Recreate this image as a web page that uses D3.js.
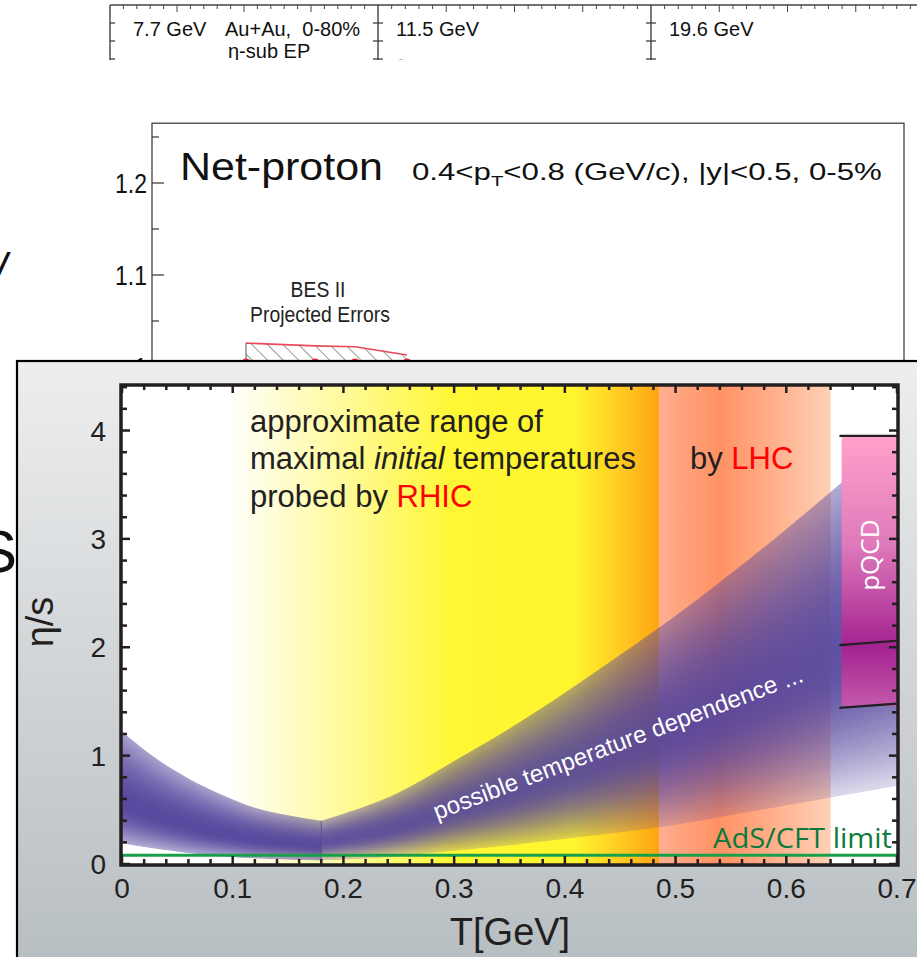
<!DOCTYPE html>
<html>
<head>
<meta charset="utf-8">
<script src="https://cdn.jsdelivr.net/npm/d3@7"></script>
<style>
  body { margin: 0; background: #fff; }
  svg { display: block; }
</style>
</head>
<body>
<div id="chart"></div>
<script>
// ---- data ----
// eta/s band, left part (hadron gas side), T in GeV
const tLeft = [0, 0.03, 0.06, 0.09, 0.12, 0.15, 0.18];
const upperLeft = [1.22, 0.98, 0.79, 0.64, 0.52, 0.45, 0.40];
const lowerLeft = [0.19, 0.14, 0.10, 0.07, 0.05, 0.04, 0.03];
// right part (QGP side)
const tRight = [0.18, 0.25, 0.30, 0.35, 0.40, 0.45, 0.50, 0.55, 0.60, 0.65, 0.70];
const upperRight = [0.40, 0.66, 0.95, 1.25, 1.58, 1.93, 2.29, 2.68, 3.09, 3.52, 3.97];
const lowerRight = [0.03, 0.07, 0.12, 0.17, 0.23, 0.29, 0.36, 0.45, 0.54, 0.63, 0.72];

const adsLimit = 0.08;              // 1/4pi
const rhicRange = [0.095, 0.485];
const lhcRange = [0.485, 0.64];
const pqcdRange = [0.65, 0.70];
const pqcdBox = [1.46, 3.95];
const pqcdLines = [[3.95, 3.95], [2.02, 2.06], [1.44, 1.48]];

const xTicks = [0, 0.1, 0.2, 0.3, 0.4, 0.5, 0.6, 0.7];
const xTickLabels = ["0", "0.1", "0.2", "0.3", "0.4", "0.5", "0.6", "0.7"];
const yTicks = [0, 1, 2, 3, 4];
const yTickLabels = ["0", "1", "2", "3", "4"];

// net-proton panel (background)
const npEnergies = [7.7, 11.5, 14.5, 19.6];
const npUpper = [1.026, 1.023, 1.022, 1.013];
const npLower = [0.99, 0.99, 0.99, 0.99];
const npCentral = [1.005, 1.005, 1.005, 1.005];
const npTicks = [1.0, 1.05, 1.1, 1.15, 1.2, 1.25];
const npTickLabels = { 1.0: "1", 1.1: "1.1", 1.2: "1.2" };

// v1 strip at the very top
const stripLabels = ["7.7 GeV", "11.5 GeV", "19.6 GeV"];

const W = 917, H = 957;
const FONT = "'Liberation Sans', Arial, Helvetica, sans-serif";
const INK = "#231f20";

const svg = d3.select("#chart").append("svg")
    .attr("width", W)
    .attr("height", H)
    .style("font-family", FONT);
const defs = svg.append("defs");

// squeeze a text element horizontally to a given width
function fitWidth(sel, x, y, width) {
    const w = sel.node().getBBox().width;
    sel.attr("transform", `translate(${x},${y}) scale(${width / w},1)`);
}

// ---- top strip ----
defs.append("clipPath").attr("id", "strip-clip")
    .append("rect").attr("x", 0).attr("y", 0).attr("width", W).attr("height", 60);
const strip = svg.append("g").attr("clip-path", "url(#strip-clip)");
const stripX = d3.scaleLinear().domain([1, 2]).range([378, 651]);
const stripY = d3.scaleLinear().domain([1, 0]).range([23, 41]);
const stripLeft = 110;

strip.append("line")
    .attr("x1", stripLeft).attr("x2", W)
    .attr("y1", 5).attr("y2", 5)
    .attr("stroke", "#444").attr("stroke-width", 1.3);

stripLabels.forEach((lab, i) => {
    const x0 = i === 0 ? stripLeft : stripX(i), x1 = stripX(i + 1);
    strip.append("line")
        .attr("x1", x0).attr("x2", x0).attr("y1", 5).attr("y2", 70)
        .attr("stroke", "#333").attr("stroke-width", 1.3);
    const u = d3.scaleLinear().domain([0, 20]).range([x0, x1]);
    d3.range(1, 20).forEach(k => {
        strip.append("line")
            .attr("x1", u(k)).attr("x2", u(k))
            .attr("y1", 5).attr("y2", 5 + (k % 5 === 0 ? 7 : 4))
            .attr("stroke", "#444").attr("stroke-width", 1);
    });
    [1, 0, -1].forEach(v => {
        strip.append("line")
            .attr("x1", x0 - (i === 0 ? 0 : 5)).attr("x2", x0 + 5)
            .attr("y1", stripY(v)).attr("y2", stripY(v))
            .attr("stroke", "#333").attr("stroke-width", 1.2);
    });
    strip.append("text")
        .attr("x", x0 + (i === 0 ? 23 : 18)).attr("y", 36)
        .attr("font-size", 20).attr("fill", "#111")
        .text(lab);
});
strip.append("text")
    .attr("x", 225).attr("y", 36)
    .attr("font-size", 20).attr("fill", "#111")
    .style("white-space", "pre")
    .text("Au+Au,  0-80%");
strip.append("text")
    .attr("x", 228).attr("y", 58)
    .attr("font-size", 20).attr("fill", "#111")
    .text("η-sub EP");
strip.append("circle")
    .attr("cx", stripX(1) + 23).attr("cy", 66).attr("r", 5.5)
    .attr("fill", "none").attr("stroke", "#2020c0").attr("stroke-width", 2);
strip.append("text")
    .attr("x", stripX(1) + 34).attr("y", 74)
    .attr("font-size", 20).attr("fill", "#111")
    .text("BES II");
strip.append("text")
    .attr("x", 136).attr("y", 74)
    .attr("font-size", 20).attr("fill", "#111")
    .text("C");

// ---- net-proton panel ----
const npY = d3.scaleLinear().domain([1.0, 1.2]).range([367, 183]);
const npX = d3.scaleLog().domain([7.7, 19.6]).range([246, 407]);
const np = svg.append("g");

np.append("rect")
    .attr("x", 152).attr("y", npY(1.265))
    .attr("width", 752).attr("height", 300)
    .attr("fill", "#fff").attr("stroke", "#333").attr("stroke-width", 1.2);

npTicks.forEach(v => {
    const major = Math.abs(v * 10 - Math.round(v * 10)) < 1e-6;
    np.append("line")
        .attr("x1", 152).attr("x2", 152 + (major ? 12 : 7))
        .attr("y1", npY(v)).attr("y2", npY(v))
        .attr("stroke", "#333").attr("stroke-width", 1.2);
    if (npTickLabels[v]) {
        const t = np.append("text")
            .attr("text-anchor", "end")
            .attr("font-size", 27).attr("fill", "#111")
            .text(npTickLabels[v]);
        t.attr("transform", `translate(147,${npY(v) + 10}) scale(0.85,1)`);
    }
});

const npTitle = np.append("text").attr("font-size", 39).attr("fill", "#111").text("Net-proton");
fitWidth(npTitle, 180, 180, 203);

const npSub = np.append("text").attr("font-size", 23).attr("fill", "#111");
npSub.append("tspan").text("0.4<p");
npSub.append("tspan").attr("font-size", 15).attr("dy", 6).text("T");
npSub.append("tspan").attr("dy", -6).text("<0.8 (GeV/c), |y|<0.5, 0-5%");
fitWidth(npSub, 412, 180, 470);

const bes1 = np.append("text").attr("font-size", 22).attr("fill", "#222").attr("text-anchor", "middle").text("BES II");
bes1.attr("transform", "translate(318,297) scale(0.88,1)");
const bes2 = np.append("text").attr("font-size", 22).attr("fill", "#222").attr("text-anchor", "middle").text("Projected Errors");
bes2.attr("transform", "translate(320,322) scale(0.88,1)");

const hatch = defs.append("pattern")
    .attr("id", "hatch")
    .attr("patternUnits", "userSpaceOnUse")
    .attr("width", 11).attr("height", 11)
    .attr("patternTransform", "rotate(-45)");
hatch.append("line")
    .attr("x1", 0).attr("x2", 0).attr("y1", 0).attr("y2", 11)
    .attr("stroke", "#555").attr("stroke-width", 1.2);

const npIdx = npEnergies.map((d, i) => i);
np.append("path")
    .datum(npIdx)
    .attr("fill", "url(#hatch)")
    .attr("d", d3.area()
        .x(i => npX(npEnergies[i]))
        .y0(i => npY(npLower[i]))
        .y1(i => npY(npUpper[i])));
np.append("path")
    .datum(npIdx)
    .attr("fill", "none").attr("stroke", "#e84a5a").attr("stroke-width", 1.6)
    .attr("d", d3.line()
        .x(i => npX(npEnergies[i]))
        .y(i => npY(npUpper[i])));
np.append("line")
    .attr("x1", npX(npEnergies[0])).attr("x2", npX(npEnergies[0]))
    .attr("y1", npY(npUpper[0])).attr("y2", npY(npLower[0]))
    .attr("stroke", "#555").attr("stroke-width", 1);
np.selectAll("circle.np")
    .data(npIdx)
    .join("circle")
    .attr("cx", i => npX(npEnergies[i]))
    .attr("cy", i => npY(npCentral[i]))
    .attr("r", 4).attr("fill", "#e83040");

// left fragments of a neighbouring figure
svg.append("text")
    .attr("x", -6).attr("y", 286)
    .attr("font-size", 46).attr("font-style", "italic").attr("fill", "#111")
    .text("/");
svg.append("text")
    .attr("x", 17).attr("y", 572).attr("text-anchor", "end")
    .attr("font-size", 60).attr("fill", "#111")
    .text("S");

// ---- main panel ----
const panelGrad = defs.append("linearGradient")
    .attr("id", "panel-grad")
    .attr("x1", 0).attr("y1", 0).attr("x2", 0).attr("y2", 1);
panelGrad.append("stop").attr("offset", "0%").attr("stop-color", "#edeeef");
panelGrad.append("stop").attr("offset", "40%").attr("stop-color", "#cbcfd2");
panelGrad.append("stop").attr("offset", "100%").attr("stop-color", "#97a3a8");

svg.append("rect")
    .attr("x", 17).attr("y", 361)
    .attr("width", W).attr("height", H)
    .attr("fill", "url(#panel-grad)")
    .attr("stroke", "#000").attr("stroke-width", 2.2);

const x = d3.scaleLinear().domain([0, 0.7]).range([122, 897]);
const y = d3.scaleLinear().domain([0, 4.42]).range([864, 385]);

const plot = svg.append("g");
plot.append("rect")
    .attr("x", x(0)).attr("y", y(4.42))
    .attr("width", x(0.7) - x(0)).attr("height", y(0) - y(4.42))
    .attr("fill", "#fff");

defs.append("clipPath").attr("id", "plot-clip")
    .append("rect")
    .attr("x", x(0)).attr("y", y(4.42))
    .attr("width", x(0.7) - x(0)).attr("height", y(0) - y(4.42));
const inner = plot.append("g").attr("clip-path", "url(#plot-clip)");

// RHIC range
const rhicGrad = defs.append("linearGradient")
    .attr("id", "rhic-grad")
    .attr("gradientUnits", "userSpaceOnUse")
    .attr("x1", x(rhicRange[0])).attr("x2", x(rhicRange[1]))
    .attr("y1", 0).attr("y2", 0);
[["0%", "#ffffff"], ["8%", "#fffde2"], ["28%", "#fffa96"], ["52%", "#fff735"],
 ["80%", "#fff52e"], ["90%", "#ffcf24"], ["100%", "#ffa312"]].forEach(([o, c]) =>
    rhicGrad.append("stop").attr("offset", o).attr("stop-color", c));
inner.append("rect")
    .attr("x", x(rhicRange[0])).attr("y", y(4.42))
    .attr("width", x(rhicRange[1]) - x(rhicRange[0])).attr("height", y(0) - y(4.42))
    .attr("fill", "url(#rhic-grad)");

// LHC range
const lhcGrad = defs.append("linearGradient")
    .attr("id", "lhc-grad")
    .attr("gradientUnits", "userSpaceOnUse")
    .attr("x1", x(lhcRange[0])).attr("x2", x(lhcRange[1]))
    .attr("y1", 0).attr("y2", 0);
[["0%", "#ffae90"], ["35%", "#ff9163"], ["100%", "#ffd0b6"]].forEach(([o, c]) =>
    lhcGrad.append("stop").attr("offset", o).attr("stop-color", c));
inner.append("rect")
    .attr("x", x(lhcRange[0])).attr("y", y(4.42))
    .attr("width", x(lhcRange[1]) - x(lhcRange[0])).attr("height", y(0) - y(4.42))
    .attr("fill", "url(#lhc-grad)");

// band: one purple path, with a luminance mask that is darker at the middle
function bandAlpha(f, peak, e0, e1, pk) {
    return f < peak
        ? e0 + (pk - e0) * Math.sin(f / peak * Math.PI / 2)
        : e1 + (pk - e1) * Math.sin((1 - f) / (1 - peak) * Math.PI / 2);
}
function drawBand(id, ts, lo, up, prof) {
    const N = 100;
    const idx = ts.map((d, i) => i);
    const band = f0 => d3.area()
        .curve(d3.curveMonotoneX)
        .x(i => x(ts[i]))
        .y0(i => y(lo[i] + (up[i] - lo[i]) * f0))
        .y1(i => y(up[i]));
    const mask = defs.append("mask")
        .attr("id", id)
        .attr("maskUnits", "userSpaceOnUse")
        .attr("x", 0).attr("y", 0).attr("width", W).attr("height", H)
        .attr("color-interpolation", "sRGB")
        .style("mask-type", "luminance");
    // painter's order: each layer starts a bit higher and covers the rest
    for (let k = 0; k < N; k++) {
        const f0 = k / N;
        const v = Math.round(255 * bandAlpha((k + 0.5) / N, ...prof));
        mask.append("path")
            .datum(idx)
            .attr("fill", `rgb(${v},${v},${v})`)
            .attr("d", band(f0));
    }
    inner.append("path")
        .datum(idx)
        .attr("fill", "#54449c")
        .attr("mask", `url(#${id})`)
        .attr("d", band(0));
}
drawBand("band-left", tLeft, lowerLeft, upperLeft, [0.36, 0.45, 0.5, 0.97]);
drawBand("band-right", tRight, lowerRight, upperRight, [0.45, 0.2, 0.45, 0.93]);
inner.append("line")
    .attr("x1", x(tRight[0])).attr("x2", x(tRight[0]))
    .attr("y1", y(lowerRight[0])).attr("y2", y(upperRight[0]))
    .attr("stroke", "#3e2f88").attr("stroke-width", 1).attr("opacity", 0.6);

// pQCD
const pqGrad = defs.append("linearGradient")
    .attr("id", "pq-grad")
    .attr("gradientUnits", "userSpaceOnUse")
    .attr("x1", 0).attr("x2", 0)
    .attr("y1", y(pqcdBox[1])).attr("y2", y(pqcdBox[0]));
[["0%", "#ffa1ca"], ["40%", "#df7abb"], ["78%", "#a32390"], ["100%", "#c458ab"]].forEach(([o, c]) =>
    pqGrad.append("stop").attr("offset", o).attr("stop-color", c));
inner.append("rect")
    .attr("x", x(pqcdRange[0])).attr("y", y(pqcdBox[1]))
    .attr("width", x(pqcdRange[1]) - x(pqcdRange[0]))
    .attr("height", y(pqcdBox[0]) - y(pqcdBox[1]))
    .attr("fill", "url(#pq-grad)");
pqcdLines.forEach(([a, b]) => {
    inner.append("line")
        .attr("x1", x(pqcdRange[0] - 0.002)).attr("x2", x(pqcdRange[1]))
        .attr("y1", y(a)).attr("y2", y(b))
        .attr("stroke", INK).attr("stroke-width", 2.2);
});
inner.append("text")
    .attr("transform", `translate(${x((pqcdRange[0] + pqcdRange[1]) / 2) + 10},${y(2.85)}) rotate(-90)`)
    .attr("text-anchor", "middle")
    .attr("font-family", "'Open Sans', 'Noto Sans', sans-serif")
    .attr("font-size", 26).attr("fill", "#fff")
    .text("pQCD");

// AdS/CFT limit
inner.append("line")
    .attr("x1", x(0)).attr("x2", x(0.7))
    .attr("y1", y(adsLimit)).attr("y2", y(adsLimit))
    .attr("stroke", "#17a04a").attr("stroke-width", 3);
const ads = plot.append("text")
    .attr("font-family", "'Open Sans', 'Noto Sans', sans-serif")
    .attr("font-size", 27).attr("fill", "#0b7a3c")
    .text("AdS/CFT limit");
fitWidth(ads, 713, 848, 179);

// annotations
const ann = plot.append("g").attr("font-size", 31).attr("fill", INK);
ann.append("text").attr("x", 250).attr("y", 432).text("approximate range of");
const l2 = ann.append("text").attr("x", 250).attr("y", 469);
l2.append("tspan").text("maximal ");
l2.append("tspan").attr("font-style", "italic").text("initial");
l2.append("tspan").text(" temperatures");
const l3 = ann.append("text").attr("x", 250).attr("y", 507);
l3.append("tspan").text("probed by ");
l3.append("tspan").attr("fill", "#ff0000").text("RHIC");
const l4 = ann.append("text").attr("x", 690).attr("y", 469);
l4.append("tspan").text("by ");
l4.append("tspan").attr("fill", "#ff0000").text("LHC");

plot.append("text")
    .attr("transform", "translate(437,820) rotate(-20.7)")
    .attr("font-size", 24).attr("fill", "#fff")
    .attr("textLength", 393).attr("lengthAdjust", "spacing")
    .text("possible temperature dependence ...");

// frame and ticks
plot.append("rect")
    .attr("x", x(0) - 1).attr("y", y(4.42))
    .attr("width", x(0.7) - x(0) + 2).attr("height", y(0) - y(4.42) + 1)
    .attr("fill", "none").attr("stroke", INK).attr("stroke-width", 3.5);

const ticks = plot.append("g").attr("stroke", INK).attr("stroke-width", 2.5);
d3.range(0, 36).map(k => k / 50).forEach(v => {
    const len = Math.abs(v * 10 - Math.round(v * 10)) < 1e-6 ? 8 : 5;
    ticks.append("line").attr("x1", x(v)).attr("x2", x(v)).attr("y1", y(0)).attr("y2", y(0) - len);
    ticks.append("line").attr("x1", x(v)).attr("x2", x(v)).attr("y1", y(4.42)).attr("y2", y(4.42) + len);
});
d3.range(0, 23).map(k => k / 5).forEach(v => {
    const len = Math.abs(v - Math.round(v)) < 1e-6 ? 8 : 5;
    ticks.append("line").attr("x1", x(0)).attr("x2", x(0) + len).attr("y1", y(v)).attr("y2", y(v));
    ticks.append("line").attr("x1", x(0.7)).attr("x2", x(0.7) - len).attr("y1", y(v)).attr("y2", y(v));
});

plot.append("g").selectAll("text")
    .data(xTicks)
    .join("text")
    .attr("x", d => x(d)).attr("y", 898)
    .attr("text-anchor", "middle")
    .attr("font-size", 28).attr("fill", INK)
    .text((d, i) => xTickLabels[i]);
plot.append("g").selectAll("text")
    .data(yTicks)
    .join("text")
    .attr("x", 106).attr("y", d => y(d) + 10)
    .attr("text-anchor", "end")
    .attr("font-size", 28).attr("fill", INK)
    .text((d, i) => yTickLabels[i]);

plot.append("text")
    .attr("x", 510).attr("y", 945)
    .attr("text-anchor", "middle")
    .attr("font-size", 38).attr("fill", INK)
    .text("T[GeV]");
plot.append("text")
    .attr("transform", "translate(53,622) rotate(-90)")
    .attr("text-anchor", "middle")
    .attr("font-size", 38).attr("fill", INK)
    .text("η/s");
</script>
</body>
</html>
